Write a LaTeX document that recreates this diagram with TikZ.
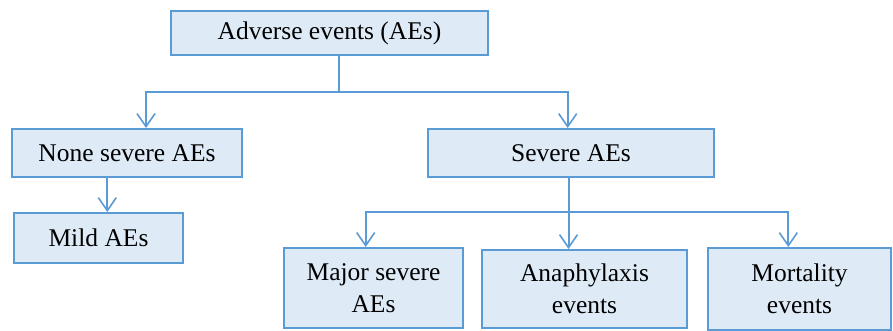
\documentclass[tikz,border=0pt]{standalone}
\usepackage{fontspec}
\setmainfont{Liberation Serif}
\usetikzlibrary{arrows.meta}
\definecolor{bline}{RGB}{91,155,213}
\definecolor{bfill}{RGB}{222,235,247}
\begin{document}
\begin{tikzpicture}[x=1pt,y=-1pt,
  box/.style={draw=bline,fill=bfill,line width=2pt,inner sep=0pt,align=center,
    font=\fontsize{25.5}{31.5}\selectfont},
  conn/.style={draw=bline,line width=2pt},
  arr/.style={conn,-{Straight Barb[length=13pt,width=18pt,line width=1.6pt]}}]
\path[use as bounding box] (0,0) rectangle (893,331);
% boxes
\node[box,minimum width=317pt,minimum height=44pt] (top) at (329.5,33) {Adverse events (AEs)};
\node[box,minimum width=230pt,minimum height=48pt] (none) at (127,153) {None severe AEs};
\node[box,minimum width=169pt,minimum height=50pt] (mild) at (98.5,238) {Mild AEs};
\node[box,minimum width=286pt,minimum height=48pt] (severe) at (571,153) {Severe AEs};
\node[box,minimum width=179pt,minimum height=80pt] (major) at (373.5,288) {Major severe\\AEs};
\node[box,minimum width=205pt,minimum height=78pt] (anaph) at (584.5,289) {Anaphylaxis\\events};
\node[box,minimum width=183pt,minimum height=82pt] (mort) at (799.5,289) {Mortality\\events};
% connector x positions and bus levels
\coordinate (xt) at (339.3,0);
\coordinate (xn) at (146,0);
\coordinate (xs) at (567.7,0);
\coordinate (xm) at (107.3,0);
\coordinate (xv) at (568.5,0);
\coordinate (xa) at (365.7,0);
\coordinate (xr) at (788.3,0);
\coordinate (bus1) at (0,92);
\coordinate (bus2) at (0,211.7);
% top level
\draw[conn] (top.south -| xt) -- (bus1 -| xt);
\draw[arr] (bus1 -| xt) -- (bus1 -| xn) -- (none.north -| xn);
\draw[arr] (bus1 -| xt) -- (bus1 -| xs) -- (severe.north -| xs);
% none severe to mild
\draw[arr] (none.south -| xm) -- (mild.north -| xm);
% severe level
\draw[arr] (severe.south -| xv) -- (anaph.north -| xv);
\draw[arr] (bus2 -| xv) -- (bus2 -| xa) -- (major.north -| xa);
\draw[arr] (bus2 -| xv) -- (bus2 -| xr) -- (mort.north -| xr);
\end{tikzpicture}
\end{document}
